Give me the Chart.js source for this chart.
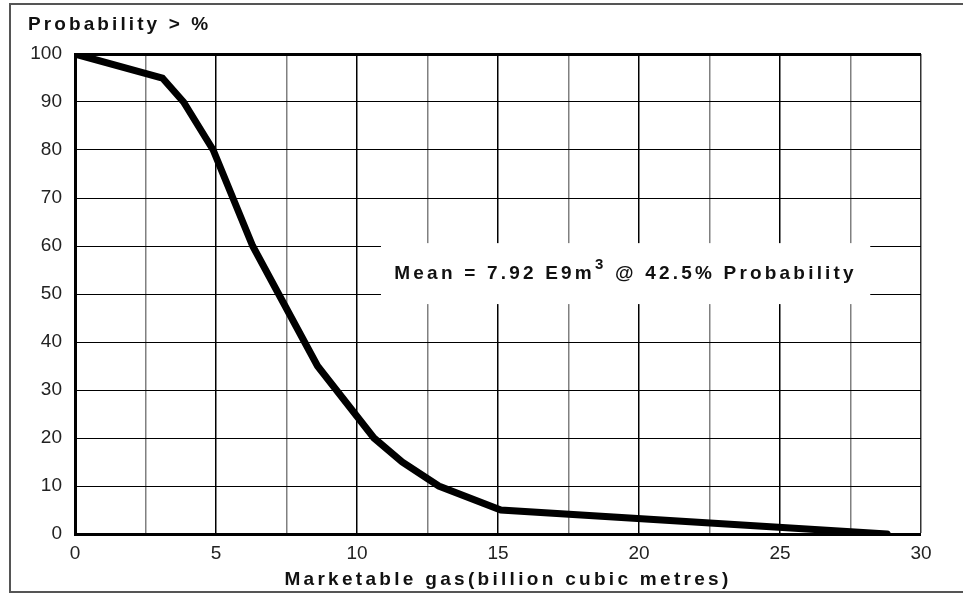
<!DOCTYPE html>
<html>
<head>
<meta charset="utf-8">
<title>Marketable gas probability</title>
<script src="https://cdn.jsdelivr.net/npm/chart.js@4/dist/chart.umd.min.js"></script>
<style>
  html, body { margin: 0; padding: 0; background: #fff; }
  #wrap { width: 963px; height: 594px; position: relative; }
</style>
</head>
<body>
<div id="wrap"><canvas id="gasChart" width="963" height="594"></canvas></div>
<script>
// valores
const gasVolume = [0, 3.1, 3.85, 4.9, 6.3, 8.6, 10.6, 11.6, 12.9, 15.1, 28.8];
const probability = [100, 95, 90, 80, 60, 35, 20, 15, 10, 5, 0];

const xTitle = "Marketable gas(billion cubic metres)";
const yTitle = "Probability > %";
const meanText = ["Mean = 7.92 E9m", "3", " @ 42.5% Probability"];
// caixa da anotação em unidades dos eixos
const meanBoxX = [10.85, 28.2];
const meanBoxY = [47.9, 60.6];

const FONT = "'Liberation Sans', Arial, sans-serif";

// moldura, títulos e caixa da média
const extras = {
  id: "extras",
  beforeDatasetsDraw(chart) {
    const ctx = chart.ctx;
    const x = chart.scales.x, y = chart.scales.y;
    const left = x.getPixelForValue(meanBoxX[0]);
    const right = x.getPixelForValue(meanBoxX[1]);
    const top = y.getPixelForValue(meanBoxY[1]);
    const bottom = y.getPixelForValue(meanBoxY[0]);
    ctx.save();
    ctx.fillStyle = "#fff";
    ctx.fillRect(left, top, right - left, bottom - top);

    ctx.fillStyle = "#111";
    ctx.textBaseline = "alphabetic";
    ctx.textAlign = "left";
    ctx.letterSpacing = "3.2px";
    ctx.font = "bold 19px " + FONT;
    const w1 = ctx.measureText(meanText[0]).width;
    ctx.font = "bold 15px " + FONT;
    const w2 = ctx.measureText(meanText[1]).width;
    ctx.font = "bold 19px " + FONT;
    const w3 = ctx.measureText(meanText[2]).width;
    let tx = (left + right) / 2 - (w1 + w2 + w3) / 2;
    const ty = 279;
    ctx.fillText(meanText[0], tx, ty);
    tx += w1;
    ctx.font = "bold 15px " + FONT;
    ctx.fillText(meanText[1], tx, ty - 10);
    tx += w2;
    ctx.font = "bold 19px " + FONT;
    ctx.fillText(meanText[2], tx, ty);
    ctx.restore();
  },
  afterDraw(chart) {
    const ctx = chart.ctx;
    const area = chart.chartArea;
    ctx.save();
    ctx.strokeStyle = "#555";
    ctx.lineWidth = 2;
    ctx.beginPath();
    ctx.moveTo(975, 4);
    ctx.lineTo(10, 4);
    ctx.lineTo(10, 592);
    ctx.lineTo(975, 592);
    ctx.stroke();

    ctx.fillStyle = "#111";
    ctx.letterSpacing = "3.1px";
    ctx.font = "bold 19px " + FONT;
    ctx.textBaseline = "alphabetic";
    ctx.textAlign = "left";
    ctx.fillText(yTitle, 28, 30);
    ctx.letterSpacing = "3.3px";
    const w = ctx.measureText(xTitle).width;
    ctx.fillText(xTitle, (area.left + area.right) / 2 - w / 2 + 10, 585);
    ctx.restore();
  }
};

const ctx = document.getElementById("gasChart").getContext("2d");
const gasChart = new Chart(ctx, {
  type: "scatter",
  data: {
    datasets: [
      {
        data: gasVolume.map((v, i) => ({ x: v, y: probability[i] })),
        showLine: true,
        borderColor: "#000",
        borderWidth: 7,
        borderCapStyle: "round",
        borderJoinStyle: "miter",
        pointRadius: 0,
        tension: 0,
      },
    ],
  },
  options: {
    responsive: false,
    animation: false,
    devicePixelRatio: 1,
    layout: { padding: { left: 0, top: 54, right: 42, bottom: 0 } },
    plugins: { legend: { display: false }, tooltip: { enabled: false } },
    scales: {
      x: {
        type: "linear",
        min: 0,
        max: 30,
        afterFit: (s) => { s.height = 60; },
        ticks: {
          stepSize: 2.5,
          padding: 8,
          color: "#222",
          font: { family: FONT, size: 19 },
          maxRotation: 0,
          autoSkip: false,
          callback: (v) => (v % 5 === 0 ? v : ""),
        },
        grid: {
          drawTicks: false,
          color: (c) => (c.tick && c.tick.value === 30 ? "#333" : c.tick && c.tick.value % 5 === 0 ? "#000" : "#808080"),
          lineWidth: (c) => (c.tick && c.tick.value === 0 ? 0 : 1.5),
        },
        border: { color: "#000", width: 3 },
      },
      y: {
        min: 0,
        max: 100,
        afterFit: (s) => { s.width = 75; },
        ticks: {
          stepSize: 10,
          padding: 13,
          color: "#222",
          font: { family: FONT, size: 19 },
        },
        grid: {
          drawTicks: false,
          color: "#000",
          lineWidth: (c) => (c.tick && c.tick.value === 100 ? 3 : c.tick && c.tick.value === 0 ? 0 : 1),
        },
        border: { color: "#000", width: 3 },
      },
    },
  },
  plugins: [extras],
});
</script>
</body>
</html>
